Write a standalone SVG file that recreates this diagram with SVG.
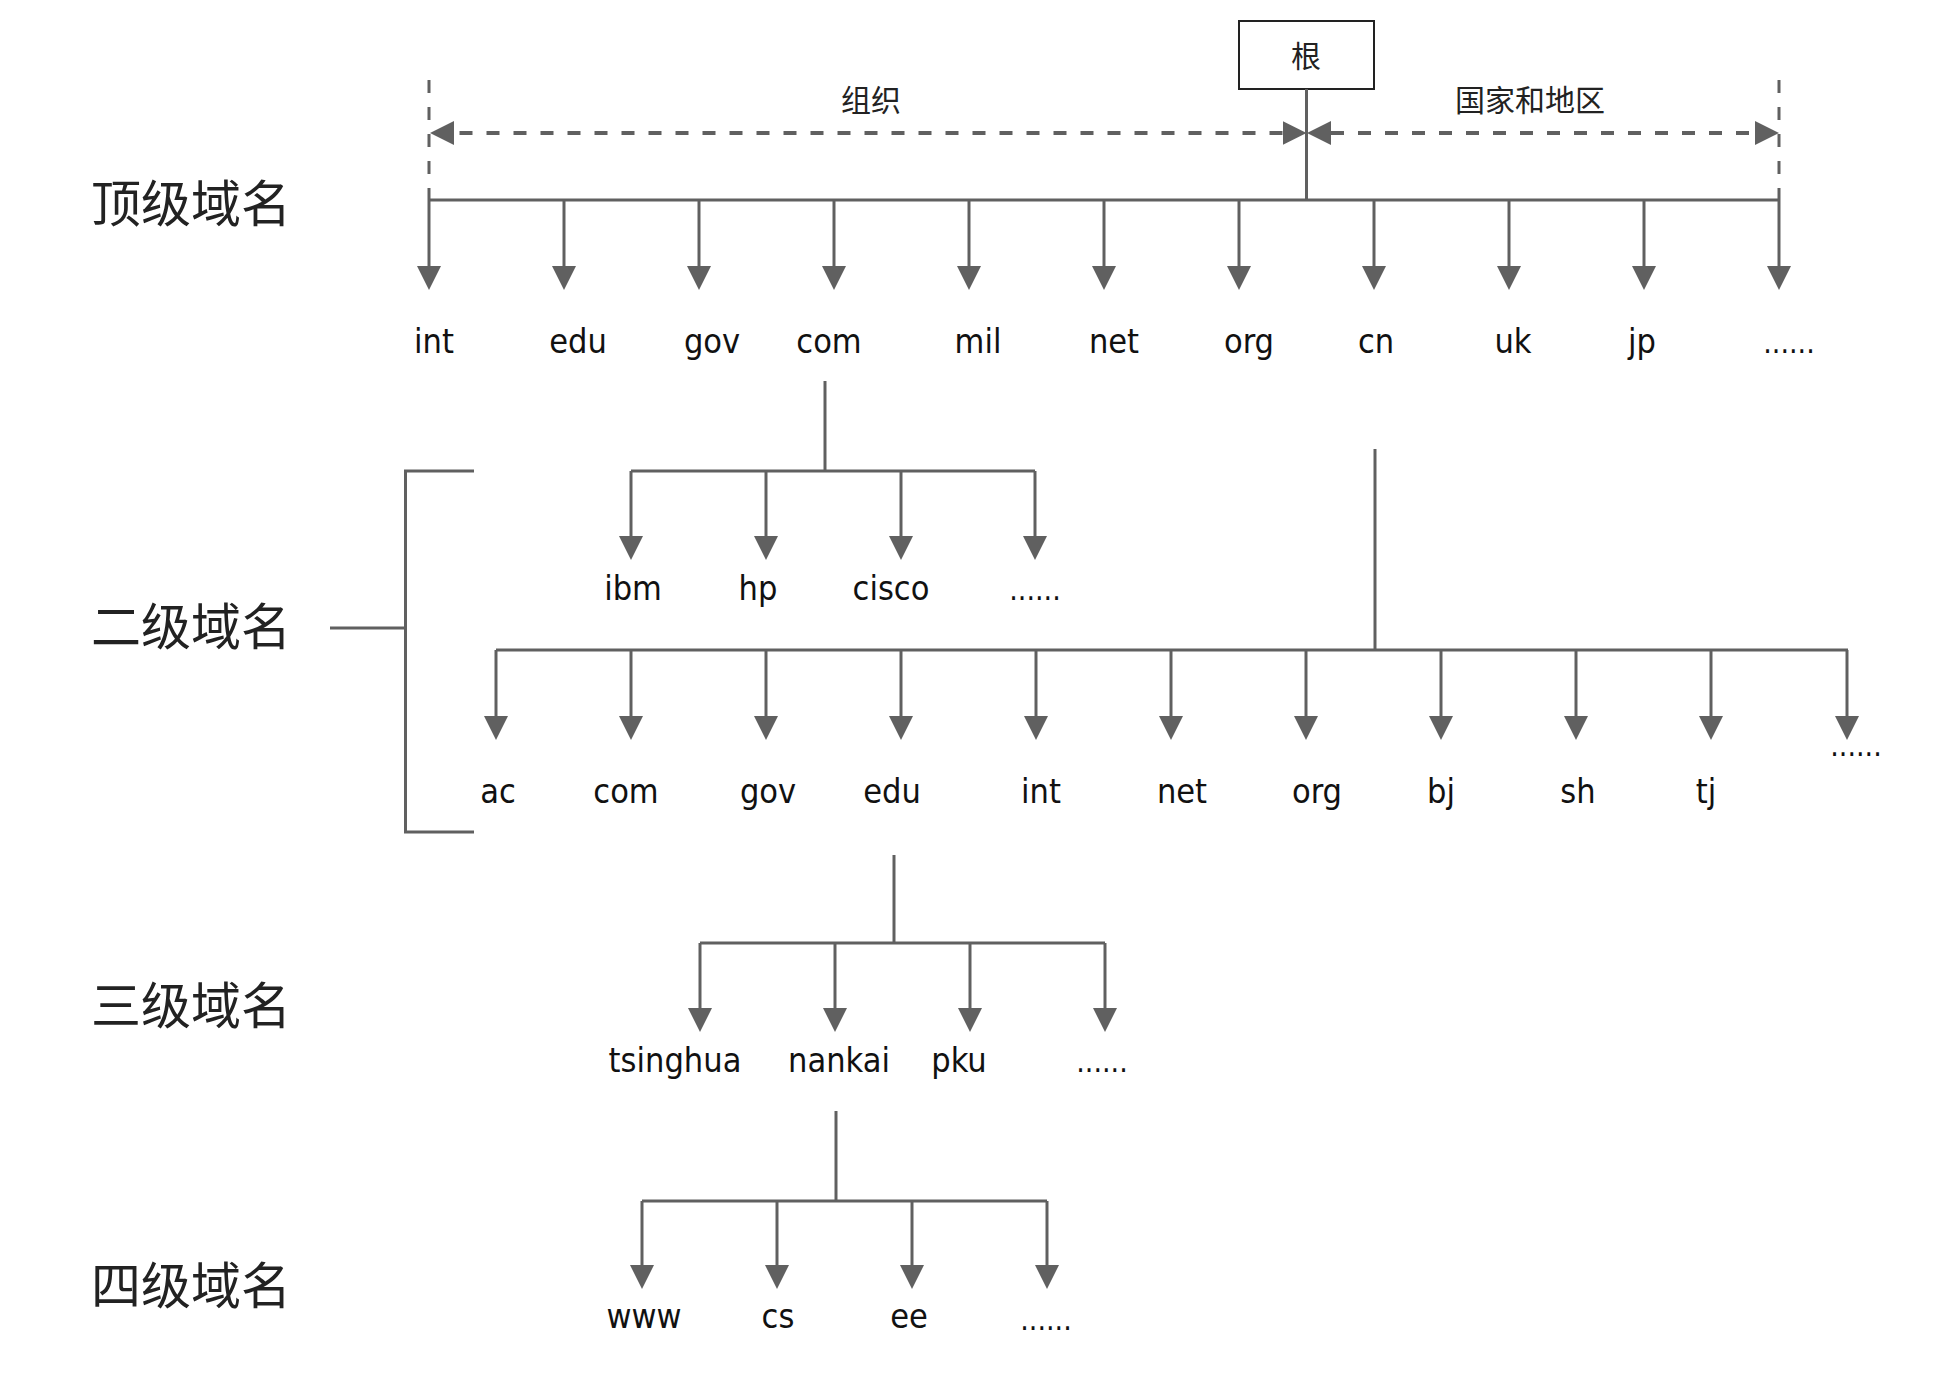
<svg xmlns="http://www.w3.org/2000/svg" width="1960" height="1382" viewBox="0 0 1960 1382">
<style>
.ln{stroke:#606060;stroke-width:3;fill:none}
.ar{stroke:#606060;stroke-width:3;fill:none;marker-end:url(#ah)}
.dash{stroke:#606060;stroke-width:4;fill:none;stroke-dasharray:13 14}
.dv{stroke:#606060;stroke-width:3;fill:none;stroke-dasharray:13 14}
.lab{font-family:'DejaVu Sans Condensed','DejaVu Sans',sans-serif;font-stretch:condensed;font-size:34px;fill:#111;text-anchor:middle}
.dots{font-family:'DejaVu Sans Condensed','DejaVu Sans',sans-serif;font-stretch:condensed;font-size:30px;fill:#111;text-anchor:middle}
.cn{font-family:'Noto Sans CJK SC',sans-serif;font-size:30px;fill:#222;text-anchor:middle}
.lvl{font-family:'Noto Sans CJK SC',sans-serif;font-size:50px;fill:#222}
</style>
<defs>
<marker id="ah" markerUnits="userSpaceOnUse" viewBox="0 0 24 24" markerWidth="24" markerHeight="24" refX="0" refY="12" orient="auto-start-reverse">
<path d="M0,0 L24,12 L0,24 Z" fill="#606060"/>
</marker>
</defs>
<rect width="1960" height="1382" fill="#ffffff"/>

<g id="level-labels">
<text class="lvl" x="91" y="222">顶级域名</text>
<text class="lvl" x="91" y="645">二级域名</text>
<text class="lvl" x="91" y="1024">三级域名</text>
<text class="lvl" x="91" y="1304">四级域名</text>
</g>

<g id="root">
<rect x="1239" y="21" width="135" height="68" fill="#fff" stroke="#222" stroke-width="2"/>
<text class="cn" x="1306" y="67">根</text>
</g>

<g id="range-labels">
<text class="cn" x="871" y="111">组织</text>
<text class="cn" x="1530" y="111">国家和地区</text>
</g>

<g id="connectors">
<!-- root to top bar -->
<line class="ln" x1="1306.5" y1="89" x2="1306.5" y2="200"/>
<line class="ln" x1="429" y1="200" x2="1779" y2="200"/>
<!-- dashed range markers -->
<line class="dv" x1="429" y1="80" x2="429" y2="200"/>
<line class="dv" x1="1779" y1="80" x2="1779" y2="200"/>
<line class="dash" x1="1282.5" y1="133" x2="454" y2="133" style="marker-start:url(#ah);marker-end:url(#ah)"/>
<line class="dash" x1="1331" y1="133" x2="1755" y2="133" style="marker-start:url(#ah);marker-end:url(#ah)"/>
<!-- top-level arrows -->
<line class="ar" x1="429" y1="200" x2="429" y2="266"/>
<line class="ar" x1="564" y1="200" x2="564" y2="266"/>
<line class="ar" x1="699" y1="200" x2="699" y2="266"/>
<line class="ar" x1="834" y1="200" x2="834" y2="266"/>
<line class="ar" x1="969" y1="200" x2="969" y2="266"/>
<line class="ar" x1="1104" y1="200" x2="1104" y2="266"/>
<line class="ar" x1="1239" y1="200" x2="1239" y2="266"/>
<line class="ar" x1="1374" y1="200" x2="1374" y2="266"/>
<line class="ar" x1="1509" y1="200" x2="1509" y2="266"/>
<line class="ar" x1="1644" y1="200" x2="1644" y2="266"/>
<line class="ar" x1="1779" y1="200" x2="1779" y2="266"/>
<!-- com subtree -->
<line class="ln" x1="825" y1="381" x2="825" y2="471"/>
<line class="ln" x1="631" y1="471" x2="1035" y2="471"/>
<line class="ar" x1="631" y1="471" x2="631" y2="536"/>
<line class="ar" x1="766" y1="471" x2="766" y2="536"/>
<line class="ar" x1="901" y1="471" x2="901" y2="536"/>
<line class="ar" x1="1035" y1="471" x2="1035" y2="536"/>
<!-- cn subtree -->
<line class="ln" x1="1375" y1="449" x2="1375" y2="650"/>
<line class="ln" x1="496" y1="650" x2="1848" y2="650"/>
<line class="ar" x1="496" y1="650" x2="496" y2="716"/>
<line class="ar" x1="631" y1="650" x2="631" y2="716"/>
<line class="ar" x1="766" y1="650" x2="766" y2="716"/>
<line class="ar" x1="901" y1="650" x2="901" y2="716"/>
<line class="ar" x1="1036" y1="650" x2="1036" y2="716"/>
<line class="ar" x1="1171" y1="650" x2="1171" y2="716"/>
<line class="ar" x1="1306" y1="650" x2="1306" y2="716"/>
<line class="ar" x1="1441" y1="650" x2="1441" y2="716"/>
<line class="ar" x1="1576" y1="650" x2="1576" y2="716"/>
<line class="ar" x1="1711" y1="650" x2="1711" y2="716"/>
<line class="ar" x1="1847" y1="650" x2="1847" y2="716"/>
<!-- bracket for second level -->
<path class="ln" d="M474,471 H405.5 V832 H474"/>
<line class="ln" x1="330" y1="628" x2="405.5" y2="628"/>
<!-- edu subtree -->
<line class="ln" x1="894" y1="855" x2="894" y2="943"/>
<line class="ln" x1="700" y1="943" x2="1105" y2="943"/>
<line class="ar" x1="700" y1="943" x2="700" y2="1008"/>
<line class="ar" x1="835" y1="943" x2="835" y2="1008"/>
<line class="ar" x1="970" y1="943" x2="970" y2="1008"/>
<line class="ar" x1="1105" y1="943" x2="1105" y2="1008"/>
<!-- nankai subtree -->
<line class="ln" x1="836" y1="1111" x2="836" y2="1201"/>
<line class="ln" x1="642" y1="1201" x2="1047" y2="1201"/>
<line class="ar" x1="642" y1="1201" x2="642" y2="1265"/>
<line class="ar" x1="777" y1="1201" x2="777" y2="1265"/>
<line class="ar" x1="912" y1="1201" x2="912" y2="1265"/>
<line class="ar" x1="1047" y1="1201" x2="1047" y2="1265"/>
</g>

<g id="top-level">
<text class="lab" x="434" y="353">int</text>
<text class="lab" x="578" y="353">edu</text>
<text class="lab" x="712" y="353">gov</text>
<text class="lab" x="829" y="353">com</text>
<text class="lab" x="978" y="353">mil</text>
<text class="lab" x="1114" y="353">net</text>
<text class="lab" x="1249" y="353">org</text>
<text class="lab" x="1376" y="353">cn</text>
<text class="lab" x="1513" y="353">uk</text>
<text class="lab" x="1642" y="353">jp</text>
<text class="dots" x="1789" y="353">......</text>
</g>

<g id="second-level-com">
<text class="lab" x="633" y="600">ibm</text>
<text class="lab" x="758" y="600">hp</text>
<text class="lab" x="891" y="600">cisco</text>
<text class="dots" x="1035" y="600">......</text>
</g>

<g id="second-level-cn">
<text class="lab" x="498" y="803">ac</text>
<text class="lab" x="626" y="803">com</text>
<text class="lab" x="768" y="803">gov</text>
<text class="lab" x="892" y="803">edu</text>
<text class="lab" x="1041" y="803">int</text>
<text class="lab" x="1182" y="803">net</text>
<text class="lab" x="1317" y="803">org</text>
<text class="lab" x="1441" y="803">bj</text>
<text class="lab" x="1578" y="803">sh</text>
<text class="lab" x="1706" y="803">tj</text>
<text class="dots" x="1856" y="756">......</text>
</g>

<g id="third-level">
<text class="lab" x="675" y="1072">tsinghua</text>
<text class="lab" x="839" y="1072">nankai</text>
<text class="lab" x="959" y="1072">pku</text>
<text class="dots" x="1102" y="1072">......</text>
</g>

<g id="fourth-level">
<text class="lab" x="644" y="1328">www</text>
<text class="lab" x="778" y="1328">cs</text>
<text class="lab" x="909" y="1328">ee</text>
<text class="dots" x="1046" y="1330">......</text>
</g>
</svg>
